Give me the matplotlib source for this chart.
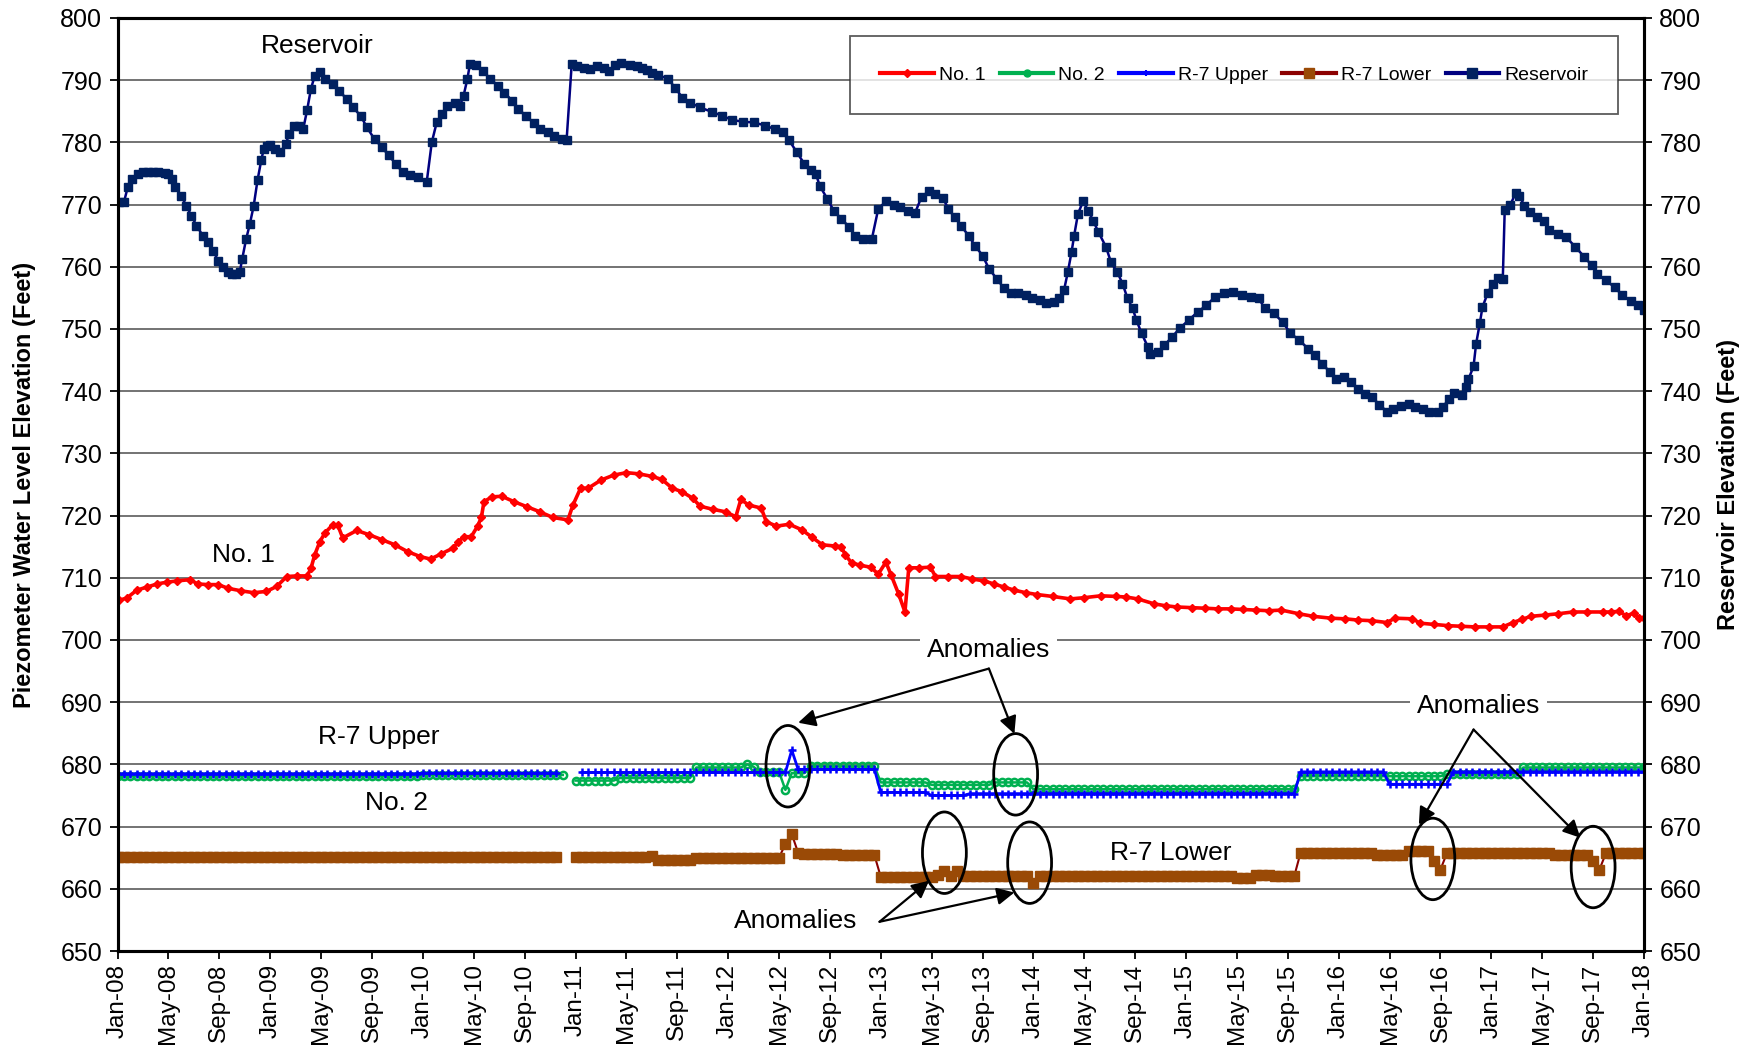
import numpy as np
import matplotlib
matplotlib.use("Agg")
import matplotlib.pyplot as plt
from matplotlib.lines import Line2D
from matplotlib.patches import Ellipse
from matplotlib import font_manager

plt.rcParams['font.family'] = ['Liberation Sans', 'DejaVu Sans']

nan = float('nan')

# ---------------------------------------------------------------------------
# Data (x values are months after January 2008)
# ---------------------------------------------------------------------------
tick_labels = ['Jan-08', 'May-08', 'Sep-08', 'Jan-09', 'May-09', 'Sep-09',
               'Jan-10', 'May-10', 'Sep-10', 'Jan-11', 'May-11', 'Sep-11',
               'Jan-12', 'May-12', 'Sep-12', 'Jan-13', 'May-13', 'Sep-13',
               'Jan-14', 'May-14', 'Sep-14', 'Jan-15', 'May-15', 'Sep-15',
               'Jan-16', 'May-16', 'Sep-16', 'Jan-17', 'May-17', 'Sep-17',
               'Jan-18']

# Reservoir elevation readings
res_month = [0.1, 0.5, 0.8, 1.15, 1.6, 2.0, 2.4, 2.8, 3.2, 3.7,
             4.0, 4.3, 4.55, 5.0, 5.4, 5.8, 6.2, 6.7, 7.1, 7.5,
             7.9, 8.3, 8.7, 9.0, 9.3, 9.6, 9.8, 10.1, 10.4, 10.7,
             11.0, 11.3, 11.5, 11.75, 12.0, 12.4, 12.8, 13.2, 13.5, 13.9,
             14.3, 14.6, 14.9, 15.2, 15.5, 15.9, 16.3, 16.9, 17.4, 18.0,
             18.5, 19.1, 19.6, 20.2, 20.8, 21.3, 21.9, 22.4, 23.0, 23.6,
             24.3, 24.7, 25.1, 25.5, 25.9, 26.5, 26.9, 27.2, 27.5, 27.7,
             28.2, 28.7, 29.3, 29.9, 30.4, 31.0, 31.5, 32.1, 32.7, 33.2,
             33.8, 34.3, 34.9, 35.3, 35.7, 36.1, 36.7, 37.1, 37.7, 38.2,
             38.6, 39.1, 39.6, 40.3, 40.8, 41.2, 41.6, 42.0, 42.5, 43.3,
             43.8, 44.4, 45.0, 45.8, 46.7, 47.5, 48.3, 49.2, 50.0, 50.9,
             51.7, 52.3, 52.8, 53.4, 54.0, 54.5, 54.9, 55.2, 55.8, 56.3,
             56.9, 57.5, 58.0, 58.6, 59.3, 59.8, 60.4, 61.0, 61.5, 62.1,
             62.7, 63.2, 63.8, 64.3, 64.9, 65.3, 65.8, 66.3, 66.9, 67.4,
             68.0, 68.5, 69.1, 69.7, 70.2, 70.8, 71.4, 71.9, 72.5, 73.0,
             73.6, 74.0, 74.4, 74.7, 75.0, 75.2, 75.5, 75.9, 76.3, 76.7,
             77.1, 77.7, 78.1, 78.6, 79.0, 79.4, 79.8, 80.1, 80.5, 81.0,
             81.2, 81.8, 82.3, 82.9, 83.5, 84.2, 84.9, 85.6, 86.3, 87.0,
             87.7, 88.4, 89.1, 89.7, 90.2, 90.9, 91.6, 92.2, 92.9, 93.6,
             94.1, 94.7, 95.3, 95.8, 96.4, 97.0, 97.5, 98.1, 98.6, 99.2,
             99.8, 100.3, 100.9, 101.5, 102.0, 102.6, 103.1, 103.8, 104.2, 104.7,
             105.1, 105.7, 106.0, 106.2, 106.6, 106.8, 107.1, 107.3, 107.7, 108.1,
             108.5, 108.9, 109.05, 109.5, 109.9, 110.2, 110.6, 111.0, 111.6, 112.1,
             112.5, 113.2, 113.9, 114.6, 115.3, 115.9, 116.3, 117.0, 117.7, 118.3,
             119.0, 119.5, 120.0]
res_elev = [770.4, 770.4, 772.8, 774.1, 774.9, 775.2, 775.2, 775.3, 775.2, 775.1,
            774.9, 774.1, 772.8, 771.4, 769.8, 768.2, 766.6, 765.0, 764.0, 762.6,
            761.0, 760.0, 759.1, 758.9, 758.9, 759.1, 761.3, 764.4, 766.9, 769.8,
            773.9, 777.2, 779.0, 779.4, 779.5, 778.9, 778.4, 779.7, 781.3, 782.7,
            782.7, 782.2, 785.2, 788.6, 790.7, 791.3, 790.2, 789.4, 788.3, 787.0,
            785.6, 784.3, 782.4, 780.5, 779.2, 777.9, 776.5, 775.2, 774.8, 774.5,
            773.6, 780.0, 783.3, 784.5, 785.9, 786.3, 785.8, 787.5, 790.2, 792.6,
            792.4, 791.5, 790.2, 789.1, 788.0, 786.7, 785.3, 784.3, 783.1, 782.2,
            781.6, 781.0, 780.6, 780.4, 792.6, 792.3, 791.9, 791.8, 792.2, 791.9,
            791.5, 792.4, 792.7, 792.4, 792.2, 791.9, 791.6, 791.2, 790.8, 790.2,
            788.8, 787.2, 786.4, 785.6, 784.9, 784.3, 783.6, 783.3, 783.2, 782.7,
            782.1, 781.6, 780.3, 778.4, 776.5, 775.5, 774.9, 773.0, 770.9, 769.0,
            767.7, 766.4, 765.0, 764.4, 764.5, 769.3, 770.5, 769.9, 769.6, 769.0,
            768.7, 771.2, 772.2, 771.7, 771.0, 769.3, 768.0, 766.6, 765.0, 763.4,
            761.8, 759.7, 758.1, 756.5, 755.8, 755.7, 755.4, 755.0, 754.6, 754.2,
            754.4, 754.9, 756.2, 759.1, 762.4, 765.0, 768.5, 770.5, 769.0, 767.4,
            765.6, 763.2, 760.7, 759.1, 757.3, 754.9, 753.3, 751.4, 749.3, 747.1,
            745.9, 746.3, 747.4, 748.7, 750.1, 751.4, 752.7, 753.8, 755.2, 755.8,
            755.9, 755.4, 755.2, 754.9, 753.3, 752.5, 751.1, 749.3, 748.2, 746.8,
            745.8, 744.4, 743.1, 742.0, 742.2, 741.5, 740.4, 739.6, 739.1, 737.8,
            736.7, 737.2, 737.6, 738.0, 737.5, 737.2, 736.7, 736.7, 737.5, 738.8,
            739.7, 739.4, 740.7, 741.9, 744.0, 747.6, 751.0, 753.5, 755.7, 757.3,
            758.2, 758.1, 769.1, 770.0, 771.8, 771.4, 769.8, 768.8, 768.0, 767.4,
            765.9, 765.3, 764.7, 763.2, 761.6, 760.2, 758.9, 757.8, 756.7, 755.4,
            754.5, 753.8, 753.1]

# Piezometer No. 1 readings
no1_month = [0.1, 0.7, 1.5, 2.3, 3.1, 3.9, 4.7, 5.7, 6.3, 7.1,
             7.9, 8.7, 9.7, 10.7, 11.7, 12.5, 13.3, 14.1, 14.9, 15.2,
             15.5, 15.9, 16.3, 16.9, 17.3, 17.7, 18.8, 19.8, 20.8, 21.8,
             22.8, 23.8, 24.6, 25.4, 26.4, 26.8, 27.2, 27.8, 28.3, 28.6,
             28.8, 29.4, 30.2, 31.2, 32.2, 33.2, 34.2, 35.4, 35.8, 36.4,
             37.0, 38.0, 39.0, 40.0, 41.0, 42.0, 42.8, 43.6, 44.4, 45.2,
             45.8, 46.8, 47.8, 48.6, 49.0, 49.6, 50.6, 51.0, 51.8, 52.8,
             53.8, 54.6, 55.4, 56.4, 56.9, 57.2, 57.7, 58.4, 59.2, 59.8,
             60.4, 60.8, 61.4, 61.9, 62.2, 63.0, 63.9, 64.3, 65.3, 66.3,
             67.2, 68.1, 68.9, 69.7, 70.5, 71.4, 72.3, 73.5, 74.9, 76.0,
             77.3, 78.5, 79.3, 80.2, 81.5, 82.4, 83.3, 84.5, 85.5, 86.5,
             87.5, 88.5, 89.5, 90.5, 91.5, 92.9, 94.0, 95.4, 96.5, 97.5,
             98.6, 99.8, 100.4, 101.8, 102.4, 103.5, 104.6, 105.6, 106.7, 107.8,
             108.9, 109.7, 110.4, 111.1, 112.2, 113.2, 114.4, 115.5, 116.8, 117.4,
             118.0, 118.6, 119.2, 119.6, 120.0]
no1_elev = [706.4, 706.7, 708.0, 708.5, 709.0, 709.3, 709.5, 709.7, 709.0, 708.9,
            708.9, 708.3, 707.9, 707.6, 707.8, 708.6, 710.2, 710.3, 710.3, 711.5,
            713.7, 715.8, 717.2, 718.5, 718.5, 716.4, 717.6, 716.9, 716.1, 715.3,
            714.2, 713.4, 713.0, 713.8, 714.8, 715.8, 716.6, 716.6, 718.3, 719.7,
            722.2, 723.0, 723.1, 722.2, 721.4, 720.6, 719.7, 719.3, 721.7, 724.4,
            724.4, 725.7, 726.5, 726.9, 726.7, 726.3, 725.8, 724.4, 723.8, 722.8,
            721.5, 721.0, 720.6, 719.8, 722.6, 721.7, 721.2, 719.0, 718.3, 718.6,
            717.7, 716.5, 715.3, 715.1, 715.0, 713.7, 712.4, 712.0, 711.7, 710.6,
            712.5, 710.5, 707.4, 704.5, 711.6, 711.6, 711.7, 710.2, 710.2, 710.2,
            709.8, 709.5, 709.0, 708.5, 708.0, 707.6, 707.3, 707.0, 706.6, 706.8,
            707.1, 707.0, 706.9, 706.6, 705.8, 705.5, 705.3, 705.2, 705.1, 705.0,
            705.0, 704.9, 704.8, 704.7, 704.8, 704.2, 703.8, 703.5, 703.4, 703.2,
            703.1, 702.8, 703.5, 703.4, 702.7, 702.5, 702.3, 702.2, 702.1, 702.1,
            702.1, 702.8, 703.3, 703.8, 704.0, 704.2, 704.5, 704.5, 704.5, 704.5,
            704.6, 703.9, 704.3, 703.5, 703.5]

# Semi-monthly readings (1st and 15th of each month), one half-year per row
no2_elev = [
    678.1, 678.1, 678.1, 678.1, 678.1, 678.1, 678.1, 678.1, 678.1, 678.1, 678.1, 678.1,
    678.1, 678.1, 678.1, 678.1, 678.1, 678.1, 678.1, 678.1, 678.1, 678.1, 678.1, 678.1,
    678.1, 678.1, 678.1, 678.1, 678.1, 678.1, 678.1, 678.1, 678.1, 678.1, 678.1, 678.1,
    678.1, 678.1, 678.1, 678.1, 678.1, 678.1, 678.1, 678.1, 678.1, 678.1, 678.1, 678.1,
    678.3, 678.3, 678.3, 678.3, 678.3, 678.3, 678.3, 678.3, 678.3, 678.3, 678.3, 678.3,
    678.3, 678.3, 678.3, 678.3, 678.3, 678.3, 678.3, 678.3, 678.3, 678.3, 678.3, nan,
    677.4, 677.4, 677.4, 677.4, 677.4, 677.4, 677.4, 677.8, 677.8, 677.8, 677.8, 677.8,
    677.8, 677.8, 677.8, 677.8, 677.8, 677.8, 677.8, 679.5, 679.5, 679.5, 679.5, 679.5,
    679.5, 679.5, 679.5, 680.0, 679.6, 678.8, 678.8, 678.8, 678.8, 675.9, 678.6, 678.6,
    678.6, 679.7, 679.7, 679.7, 679.7, 679.7, 679.7, 679.7, 679.7, 679.7, 679.7, 679.7,
    677.1, 677.1, 677.1, 677.1, 677.1, 677.1, 677.1, 677.1, 676.7, 676.7, 676.7, 676.7,
    676.7, 676.7, 676.7, 676.7, 676.7, 676.7, 677.1, 677.1, 677.1, 677.1, 677.1, 677.1,
    676.0, 676.0, 676.0, 676.0, 676.0, 676.0, 676.0, 676.0, 676.0, 676.0, 676.0, 676.0,
    676.0, 676.0, 676.0, 676.0, 676.0, 676.0, 676.0, 676.0, 676.0, 676.0, 676.0, 676.0,
    676.0, 676.0, 676.0, 676.0, 676.0, 676.0, 676.0, 676.0, 676.0, 676.0, 676.0, 676.0,
    676.0, 676.0, 676.0, 676.0, 676.0, 676.0, 678.1, 678.1, 678.1, 678.1, 678.1, 678.1,
    678.1, 678.1, 678.1, 678.1, 678.1, 678.1, 678.1, 678.1, 678.1, 678.1, 678.1, 678.1,
    678.1, 678.1, 678.1, 678.1, 678.1, 678.4, 678.4, 678.4, 678.4, 678.4, 678.4, 678.4,
    678.4, 678.4, 678.4, 678.4, 678.4, 679.5, 679.5, 679.5, 679.5, 679.5, 679.5, 679.5,
    679.5, 679.5, 679.5, 679.5, 679.5, 679.5, 679.5, 679.5, 679.5, 679.5, 679.5, 679.5,
    679.5]

r7_upper_elev = [
    678.5, 678.5, 678.5, 678.5, 678.5, 678.5, 678.5, 678.5, 678.5, 678.5, 678.5, 678.5,
    678.5, 678.5, 678.5, 678.5, 678.5, 678.5, 678.5, 678.5, 678.5, 678.5, 678.5, 678.5,
    678.5, 678.5, 678.5, 678.5, 678.5, 678.5, 678.5, 678.5, 678.5, 678.5, 678.5, 678.5,
    678.5, 678.5, 678.5, 678.5, 678.5, 678.5, 678.5, 678.5, 678.5, 678.5, 678.5, 678.5,
    678.6, 678.6, 678.6, 678.6, 678.6, 678.6, 678.6, 678.6, 678.6, 678.6, 678.6, 678.6,
    678.6, 678.6, 678.6, 678.6, 678.6, 678.6, 678.6, 678.6, 678.6, 678.6, nan, nan,
    nan, 678.7, 678.7, 678.7, 678.7, 678.7, 678.7, 678.7, 678.7, 678.7, 678.7, 678.7,
    678.7, 678.7, 678.7, 678.7, 678.7, 678.7, 678.7, 678.7, 678.7, 678.7, 678.7, 678.7,
    678.7, 678.7, 678.7, 678.7, 678.7, 678.7, 678.7, 678.7, 678.7, 678.7, 682.3, 679.2,
    679.2, 679.2, 679.2, 679.2, 679.2, 679.2, 679.2, 679.2, 679.2, 679.2, 679.2, 679.2,
    675.5, 675.5, 675.5, 675.5, 675.5, 675.5, 675.5, 675.5, 675.0, 675.0, 675.0, 675.0,
    675.0, 675.0, 675.3, 675.3, 675.3, 675.3, 675.3, 675.3, 675.3, 675.3, 675.3, 675.3,
    675.3, 675.3, 675.3, 675.3, 675.3, 675.3, 675.3, 675.3, 675.3, 675.3, 675.3, 675.3,
    675.3, 675.3, 675.3, 675.3, 675.3, 675.3, 675.3, 675.3, 675.3, 675.3, 675.3, 675.3,
    675.3, 675.3, 675.3, 675.3, 675.3, 675.3, 675.3, 675.3, 675.3, 675.3, 675.3, 675.3,
    675.3, 675.3, 675.3, 675.3, 675.3, 675.3, 678.8, 678.8, 678.8, 678.8, 678.8, 678.8,
    678.8, 678.8, 678.8, 678.8, 678.8, 678.8, 678.8, 678.8, 676.8, 676.8, 676.8, 676.8,
    676.8, 676.8, 676.8, 676.8, 676.8, 676.8, 678.8, 678.8, 678.8, 678.8, 678.8, 678.8,
    678.8, 678.8, 678.8, 678.8, 678.8, 678.8, 678.8, 678.8, 678.8, 678.8, 678.8, 678.8,
    678.8, 678.8, 678.8, 678.8, 678.8, 678.8, 678.8, 678.8, 678.8, 678.8, 678.8, 678.8,
    678.8]

r7_lower_elev = [
    665.1, 665.1, 665.1, 665.1, 665.1, 665.1, 665.1, 665.1, 665.1, 665.1, 665.1, 665.1,
    665.1, 665.1, 665.1, 665.1, 665.1, 665.1, 665.1, 665.1, 665.1, 665.1, 665.1, 665.1,
    665.1, 665.1, 665.1, 665.1, 665.1, 665.1, 665.1, 665.1, 665.1, 665.1, 665.1, 665.1,
    665.1, 665.1, 665.1, 665.1, 665.1, 665.1, 665.1, 665.1, 665.1, 665.1, 665.1, 665.1,
    665.1, 665.1, 665.1, 665.1, 665.1, 665.1, 665.1, 665.1, 665.1, 665.1, 665.1, 665.1,
    665.1, 665.1, 665.1, 665.1, 665.1, 665.1, 665.1, 665.1, 665.1, 665.1, nan, nan,
    665.1, 665.1, 665.1, 665.1, 665.1, 665.1, 665.1, 665.1, 665.1, 665.1, 665.1, 665.1,
    665.2, 664.7, 664.7, 664.7, 664.7, 664.7, 664.7, 664.9, 664.9, 664.9, 664.9, 664.9,
    665.0, 665.0, 665.0, 665.0, 665.0, 665.0, 665.0, 665.0, 665.0, 667.2, 668.8, 665.8,
    665.6, 665.6, 665.6, 665.6, 665.6, 665.6, 665.4, 665.4, 665.4, 665.4, 665.4, 665.4,
    661.9, 661.9, 661.9, 661.9, 661.9, 661.9, 661.9, 661.9, 661.9, 662.2, 662.9, 662.1,
    662.8, 662.1, 662.1, 662.1, 662.1, 662.1, 662.1, 662.1, 662.1, 662.1, 662.1, 662.1,
    661.0, 662.1, 662.1, 662.1, 662.1, 662.1, 662.1, 662.1, 662.1, 662.1, 662.1, 662.1,
    662.1, 662.1, 662.1, 662.1, 662.1, 662.1, 662.1, 662.1, 662.1, 662.1, 662.1, 662.1,
    662.1, 662.1, 662.1, 662.1, 662.1, 662.1, 662.1, 662.1, 661.8, 661.8, 661.8, 662.2,
    662.2, 662.2, 662.0, 662.0, 662.0, 662.0, 665.8, 665.8, 665.8, 665.8, 665.8, 665.8,
    665.8, 665.8, 665.8, 665.8, 665.8, 665.8, 665.4, 665.4, 665.4, 665.4, 665.4, 666.0,
    666.0, 666.0, 666.0, 664.4, 663.1, 665.7, 665.7, 665.7, 665.7, 665.7, 665.7, 665.7,
    665.7, 665.7, 665.7, 665.7, 665.7, 665.7, 665.7, 665.7, 665.7, 665.7, 665.4, 665.4,
    665.4, 665.4, 665.4, 665.4, 664.5, 663.1, 665.7, 665.7, 665.7, 665.7, 665.7, 665.7,
    665.7]

half_month = np.arange(len(no2_elev)) * 0.5

# ---------------------------------------------------------------------------
# Figure
# ---------------------------------------------------------------------------
W, H = 1756, 1048
fig = plt.figure(figsize=(W / 100, H / 100), dpi=100)
ax_l, ax_r, ax_t, ax_b = 117.6, 1644.0, 17.9, 951.0
ax = fig.add_axes([ax_l / W, 1 - ax_b / H, (ax_r - ax_l) / W, (ax_b - ax_t) / H])

grid_color = '#4d4d4d'
for v in range(660, 800, 10):
    ax.axhline(v, color=grid_color, lw=1.1, zorder=1)

c_no1 = '#FF0000'
c_no2 = '#00B050'
c_up = '#0000FF'
c_low_line = '#8B0000'
c_low_mk = '#9A4A06'
c_res_line = '#000080'
c_res_mk = '#002060'

ax.plot(half_month, r7_lower_elev, color=c_low_line, lw=1.5, marker='s', ms=6.8,
        mfc=c_low_mk, mec=c_low_mk, zorder=3)
ax.plot(half_month, no2_elev, color=c_no2, lw=1.8, marker='o', ms=5.2, mfc='none',
        mec=c_no2, mew=1.8, zorder=3)
ax.plot(half_month, r7_upper_elev, color=c_up, lw=2.0, marker='+', ms=5.5,
        mew=1.8, zorder=4)
ax.plot(no1_month, no1_elev, color=c_no1, lw=2.6, marker='D', ms=4.2,
        mfc=c_no1, mec=c_no1, zorder=4)
ax.plot(res_month, res_elev, color=c_res_line, lw=1.8, marker='s', ms=6.0,
        mfc=c_res_mk, mec=c_res_mk, zorder=5)

ax.set_xlim(0, 120)
ax.set_ylim(650, 800)
ax.set_xticks(np.arange(0, 121, 4))
ax.set_xticklabels(tick_labels, rotation=90, fontsize=17.5)
ax.set_yticks(np.arange(650, 801, 10))
ax.tick_params(axis='y', labelsize=18, length=6, width=1.3, direction='out', pad=5)
ax.tick_params(axis='x', length=6, width=1.3, direction='out', pad=3)
for s in ax.spines.values():
    s.set_linewidth(2.2)
    s.set_color('black')

ax2 = ax.twinx()
ax2.set_ylim(650, 800)
ax2.set_yticks(np.arange(650, 801, 10))
ax2.tick_params(axis='y', labelsize=18, length=6, width=1.3, direction='out', pad=5)
for s in ax2.spines.values():
    s.set_linewidth(2.2)

ycen = 1 - (ax_t + ax_b) / 2 / H
fig.text(24.6 / W, ycen, 'Piezometer Water Level Elevation (Feet)', rotation=90,
         ha='center', va='center', fontsize=17, fontweight='bold')
fig.text(1729 / W, ycen, 'Reservoir Elevation (Feet)', rotation=90,
         ha='center', va='center', fontsize=17, fontweight='bold')

# Series labels
lab_fs = 19
ax.text(15.7, 795.5, 'Reservoir', ha='center', va='center', fontsize=lab_fs, zorder=6)
ax.text(9.9, 713.6, 'No. 1', ha='center', va='center', fontsize=lab_fs, zorder=6)
ax.text(20.5, 684.4, 'R-7 Upper', ha='center', va='center', fontsize=lab_fs, zorder=6)
ax.text(21.9, 673.8, 'No. 2', ha='center', va='center', fontsize=lab_fs, zorder=6)
ax.text(82.8, 665.8, 'R-7 Lower', ha='center', va='center', fontsize=lab_fs, zorder=6)

# Anomaly call-outs
box = dict(facecolor='white', edgecolor='none', pad=5)
ax.text(68.5, 698.4, 'Anomalies', ha='center', va='center', fontsize=lab_fs,
        bbox=box, zorder=6)
ax.text(107.0, 689.4, 'Anomalies', ha='center', va='center', fontsize=lab_fs,
        bbox=box, zorder=6)
ax.text(53.3, 654.9, 'Anomalies', ha='center', va='center', fontsize=lab_fs, zorder=6)

for cx, cy in [(52.7, 679.7), (70.6, 678.4), (65.0, 665.8),
               (71.7, 664.2), (103.4, 664.8), (116.0, 663.5)]:
    ax.add_patch(Ellipse((cx, cy), width=3.45, height=13.1, fill=False,
                         ec='black', lw=2.0, zorder=7))

arrow = dict(arrowstyle='-|>', color='black', lw=1.6, mutation_scale=26,
             shrinkA=0, shrinkB=0)
for start, end in [((68.5, 695.4), (53.5, 686.7)),
                   ((68.5, 695.4), (70.5, 684.9)),
                   ((106.6, 685.6), (102.3, 670.3)),
                   ((106.6, 685.6), (115.0, 668.2)),
                   ((59.9, 654.7), (63.8, 661.3)),
                   ((59.9, 654.7), (70.5, 659.4))]:
    ax.annotate('', xy=end, xytext=start, arrowprops=arrow, zorder=7)

# Legend
names = {f.name for f in font_manager.fontManager.ttflist}
leg_family = 'Liberation Sans Narrow' if 'Liberation Sans Narrow' in names else 'Liberation Sans'
leg_size = 16 if leg_family == 'Liberation Sans Narrow' else 14
handles = [
    Line2D([], [], color=c_no1, lw=3, marker='D', ms=4, mfc=c_no1, mec=c_no1),
    Line2D([], [], color=c_no2, lw=3, marker='o', ms=5, mfc=c_no2, mec=c_no2),
    Line2D([], [], color=c_up, lw=3, marker='+', ms=5, mew=1.5),
    Line2D([], [], color=c_low_line, lw=3, marker='s', ms=7, mfc=c_low_mk, mec=c_low_mk),
    Line2D([], [], color=c_res_line, lw=3, marker='s', ms=7, mfc=c_res_mk, mec=c_res_mk),
]
leg = ax.legend(handles, ['No. 1', 'No. 2', 'R-7 Upper', 'R-7 Lower', 'Reservoir'],
                loc='upper right', bbox_to_anchor=(0.983, 0.9806), ncol=5,
                prop={'family': leg_family, 'size': leg_size},
                frameon=True, fancybox=False, borderpad=1.55, handlelength=2.75,
                handletextpad=0.25, columnspacing=0.75, borderaxespad=0)
leg.get_frame().set_edgecolor('#333333')
leg.get_frame().set_linewidth(1.3)
leg.set_zorder(8)

fig.savefig('out.png', dpi=100)
